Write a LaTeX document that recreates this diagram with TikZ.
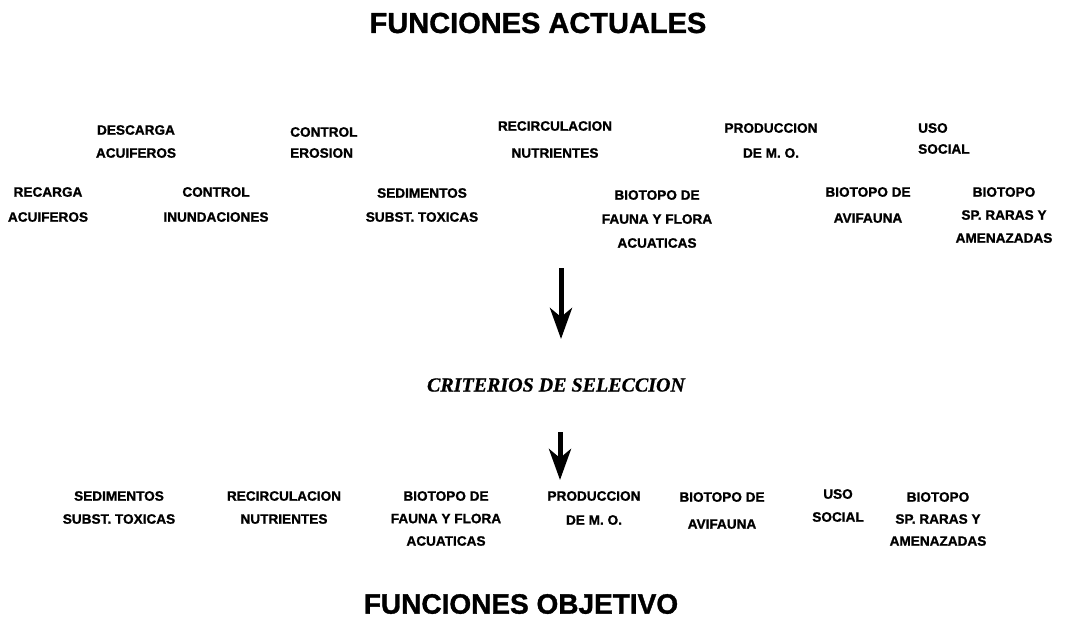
\documentclass[tikz,border=0pt]{standalone}
\usepackage{fontspec}
\setmainfont{Liberation Sans}[BoldFeatures={FakeBold=1.2}]
\newfontfamily\critfont{Liberation Serif}[BoldItalicFeatures={FakeBold=0.8}]
\usetikzlibrary{arrows.meta}
\tikzset{
  lbl/.style={font=\fontsize{13.6}{23}\selectfont\bfseries, align=center, inner sep=0pt, anchor=north},
  lblL/.style={lbl, align=left, anchor=north west},
  ttl/.style={font=\fontsize{29}{34}\selectfont\bfseries, inner sep=0pt},
  crit/.style={font=\fontsize{20}{24}\selectfont\critfont\bfseries\itshape, inner sep=0pt},
  bigarrow/.style={line width=5pt, -{Stealth[length=31pt,width=22pt,inset=9pt]}}
}
\begin{document}
\begin{tikzpicture}[x=1pt,y=-1pt]
\useasboundingbox (0,0) rectangle (1074,627);
% titles
\node[ttl] (t1) at (538,23) {FUNCIONES ACTUALES};
\node[ttl, font=\fontsize{28}{34}\selectfont\bfseries] (t2) at (521,604) {FUNCIONES OBJETIVO};
% row 1
\node[lbl] (d1) at (136,125) {DESCARGA\\ACUIFEROS};
\node[lblL, font=\fontsize{13.6}{21}\selectfont\bfseries] (d2) at (290,127) {CONTROL\\EROSION};
\node[lbl, font=\fontsize{13.6}{27}\selectfont\bfseries] (d3) at (555,121) {RECIRCULACION\\NUTRIENTES};
\node[lbl, font=\fontsize{13.6}{25}\selectfont\bfseries] (d4) at (771,123) {PRODUCCION\\DE M. O.};
\node[lblL, font=\fontsize{13.6}{21}\selectfont\bfseries] (d5) at (918,123) {USO\\SOCIAL};
% row 2
\node[lbl, font=\fontsize{13.6}{25}\selectfont\bfseries] (e1) at (48,187) {RECARGA\\ACUIFEROS};
\node[lbl, font=\fontsize{13.6}{25}\selectfont\bfseries] (e2) at (216,187) {CONTROL\\INUNDACIONES};
\node[lbl, font=\fontsize{13.6}{24}\selectfont\bfseries] (e3) at (422,188) {SEDIMENTOS\\SUBST. TOXICAS};
\node[lbl, font=\fontsize{13.6}{24}\selectfont\bfseries] (e4) at (657,190) {BIOTOPO DE\\FAUNA Y FLORA\\ACUATICAS};
\node[lbl, font=\fontsize{13.6}{26}\selectfont\bfseries] (e5) at (868,187) {BIOTOPO DE\\AVIFAUNA};
\node[lbl] (e6) at (1004,187) {BIOTOPO\\SP. RARAS Y\\AMENAZADAS};
% arrows and criteria
\coordinate (a1s) at (561,268);
\coordinate (a1e) at (561,339);
\node[crit] (c) at (556,385) {CRITERIOS DE SELECCION};
\coordinate (a2s) at (560,432);
\coordinate (a2e) at (560,480);
\draw[bigarrow] (a1s) -- (a1e);
\draw[bigarrow] (a2s) -- (a2e);
% row 3
\node[lbl] (f1) at (119,491) {SEDIMENTOS\\SUBST. TOXICAS};
\node[lbl] (f2) at (284,491) {RECIRCULACION\\NUTRIENTES};
\node[lbl, font=\fontsize{13.6}{22.5}\selectfont\bfseries] (f3) at (446,491) {BIOTOPO DE\\FAUNA Y FLORA\\ACUATICAS};
\node[lbl, font=\fontsize{13.6}{24}\selectfont\bfseries] (f4) at (594,491) {PRODUCCION\\DE M. O.};
\node[lbl, font=\fontsize{13.6}{27}\selectfont\bfseries] (f5) at (722,492) {BIOTOPO DE\\AVIFAUNA};
\node[lbl] (f6) at (838,489) {USO\\SOCIAL};
\node[lbl, font=\fontsize{13.6}{22}\selectfont\bfseries] (f7) at (938,492) {BIOTOPO\\SP. RARAS Y\\AMENAZADAS};
\end{tikzpicture}
\end{document}
